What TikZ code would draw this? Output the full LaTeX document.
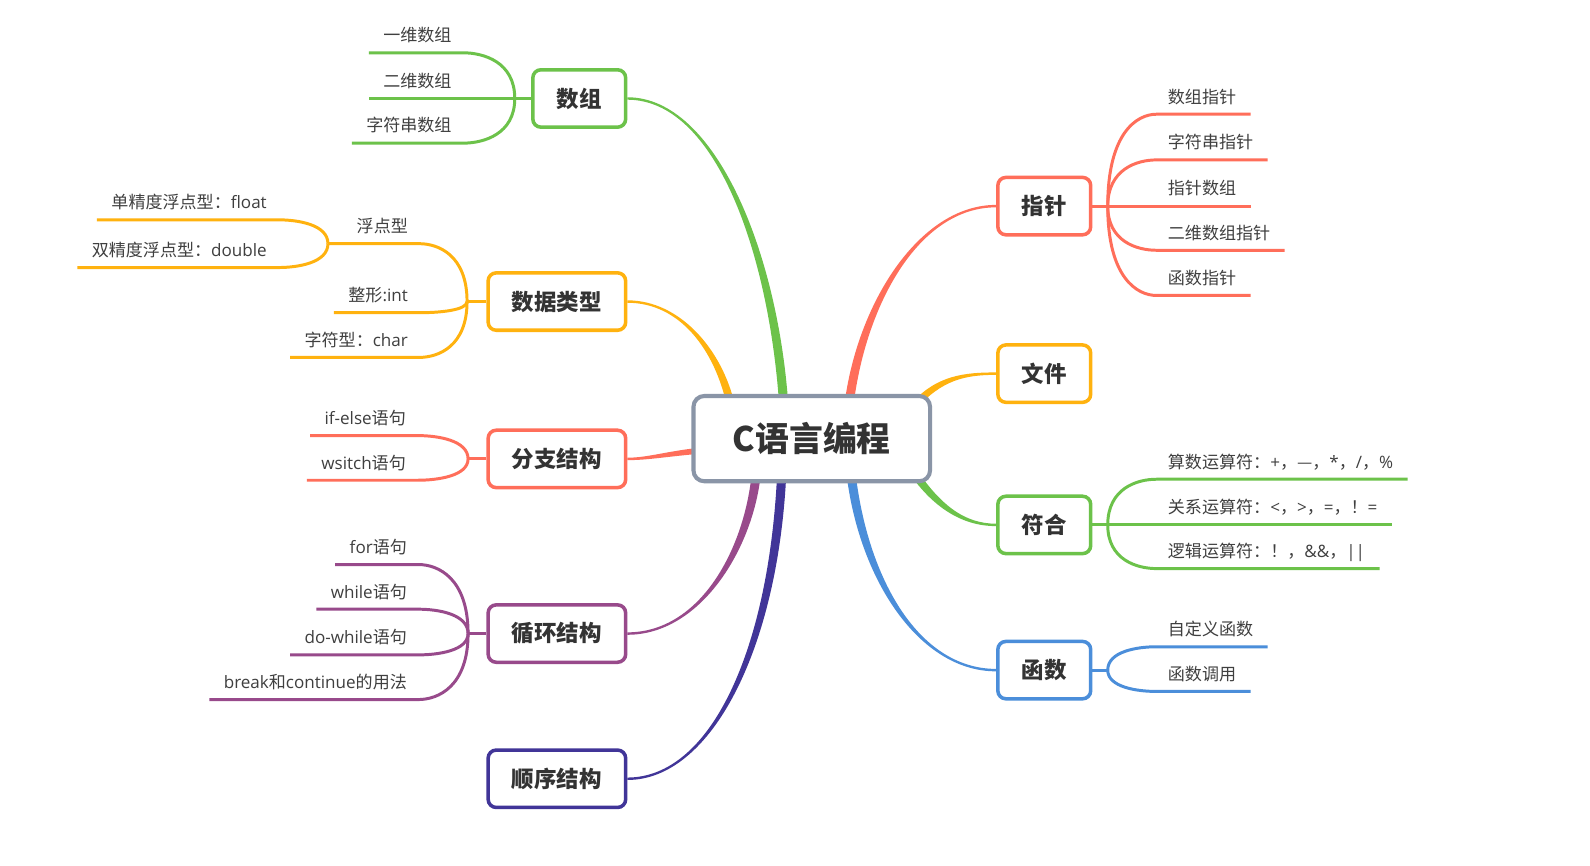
\documentclass[tikz,border=0pt]{standalone}
\usepackage{fontspec}
\setmainfont{Noto Sans CJK SC}
\newfontfamily\lat{Open Sans}
\usetikzlibrary{calc,backgrounds}
\definecolor{cgreen}{HTML}{6CC24A}
\definecolor{corange}{HTML}{FFB20F}
\definecolor{cred}{HTML}{FF6E5A}
\definecolor{cpurple}{HTML}{984A8B}
\definecolor{cindigo}{HTML}{413598}
\definecolor{cblue}{HTML}{4B8EDA}
\definecolor{cgray}{HTML}{8A95A7}
\definecolor{ctext}{HTML}{333333}
\definecolor{cleaf}{HTML}{3F3F3F}
% tapered main connector: colour, start, c1, c2, end, start half-width vector, end half-width vector
\newcommand\tapr[7]{%
  \fill[#1] ($#2+#6$) .. controls ($#3+#6$) and ($#4+#7$) .. ($#5+#7$) -- ($#5-#7$) .. controls ($#4-#7$) and ($#3-#6$) .. ($#2-#6$) -- cycle;}
% left leaf: colour, name, jx, jy, hx, line y, text
\newcommand\lleaf[7]{%
  \node[leaf, anchor=base east] (#2) at (#5,{#6-11}) {#7};
  \draw[leafline,#1] (#3,#4) .. controls (#3,{#4+0.8*(#6-#4)}) and ({#5+0.4*(#3-#5)},#6) .. (#5,#6) -- ($(#2.base west)+(-3,11)$);}
% right leaf
\newcommand\rleaf[7]{%
  \node[leaf, anchor=base west] (#2) at (#5,{#6-11}) {#7};
  \draw[leafline,#1] (#3,#4) .. controls (#3,{#4+0.8*(#6-#4)}) and ({#5+0.4*(#3-#5)},#6) .. (#5,#6) -- ($(#2.base east)+(3,11)$);}
\begin{document}
\begin{tikzpicture}[x=0.75pt,y=-0.75pt,
  box/.style={draw, line width=2.6pt, rounded corners=6pt, fill=white, minimum height=42.4pt, text=ctext, font=\fontsize{16.6}{20}\selectfont\bfseries, inner sep=0pt},
  box2/.style={box, minimum width=68.6pt},
  box4/.style={box, minimum width=101.6pt},
  leaf/.style={inner xsep=8.25pt, inner ysep=0pt, text=cleaf, font=\fontsize{12.6}{15}\selectfont},
  leafline/.style={line width=2.2pt},
]
\useasboundingbox (0,0) rectangle (1566,852);

% central node
\node[draw=cgray, line width=3pt, rounded corners=8pt, fill=white, minimum width=174.75pt, minimum height=63pt, font=\fontsize{25}{30}\selectfont\bfseries, text=ctext] (c) at (799.5,432) {C语言编程};

% branch nodes
\node[box2, draw=cgreen] (sz) at (570.5,97) {数组};
\node[box4, draw=corange] (sjlx) at (548.5,297) {数据类型};
\node[box4, draw=cred] (fz) at (548.5,452) {分支结构};
\node[box4, draw=cpurple] (xh) at (548.5,624) {循环结构};
\node[box4, draw=cindigo] (sx) at (548.5,767) {顺序结构};
\node[box2, draw=cred] (zz) at (1028.5,203) {指针};
\node[box2, draw=corange] (wj) at (1028.5,368) {文件};
\node[box2, draw=cgreen] (fh) at (1028.5,517) {符合};
\node[box2, draw=cblue] (hs) at (1028.5,660) {函数};

\begin{pgfonlayer}{background}
\fill[white] (0,0) rectangle (1566,852);
\tapr{cgreen}{(772,400)}{(762,250)}{(705,97)}{(sz.east)}{(4.5,0)}{(0,-1.2)}
\tapr{corange}{(720,400)}{(708,345)}{(670,297)}{(sjlx.east)}{(4,0)}{(0,-1.2)}
\tapr{cred}{(700,443)}{(660,446)}{(640,452)}{(fz.east)}{(0,-3)}{(0,-1.2)}
\tapr{cpurple}{(745,465)}{(738,540)}{(690,624)}{(xh.east)}{(-4.5,0)}{(0,-1.2)}
\tapr{cindigo}{(770,465)}{(762,640)}{(700,767)}{(sx.east)}{(-4.5,0)}{(0,-1.2)}
\tapr{cred}{(836,400)}{(848,300)}{(905,203)}{(zz.west)}{(4.5,0)}{(0,1.2)}
\tapr{corange}{(900,400)}{(925,372)}{(950,368)}{(wj.west)}{(2.5,2.5)}{(0,1.2)}
\tapr{cgreen}{(895,458)}{(922,500)}{(950,517)}{(fh.west)}{(-3.3,2.2)}{(0,1.2)}
\tapr{cblue}{(838,465)}{(850,570)}{(905,660)}{(hs.west)}{(-4.5,0)}{(0,1.2)}
\end{pgfonlayer}

% junction coordinates and stubs
\coordinate (jsz) at (507,97);
\coordinate (jsj) at (460,297);
\coordinate (jfd) at (323,240);
\coordinate (jfz) at (461,452);
\coordinate (jxh) at (461,624);
\coordinate (jzz) at (1091,203);
\coordinate (jfh) at (1091,517);
\coordinate (jhs) at (1091,660);
\draw[leafline,cgreen] (sz.west) -- (jsz);
\draw[leafline,corange] (sjlx.west) -- (jsj);
\draw[leafline,cred] (fz.west) -- (jfz);
\draw[leafline,cpurple] (xh.west) -- (jxh);
\draw[leafline,cred] (zz.east) -- (jzz);
\draw[leafline,cgreen] (fh.east) -- (jfh);
\draw[leafline,cblue] (hs.east) -- (jhs);

% 数组
\lleaf{cgreen}{a1}{507}{97}{456}{52}{一维数组}
\lleaf{cgreen}{a2}{507}{97}{456}{97}{二维数组}
\lleaf{cgreen}{a3}{507}{97}{456}{141}{字符串数组}

% 数据类型
\node[leaf, anchor=base east] (fd) at (413,229) {浮点型};
\draw[leafline,corange] (jsj) .. controls (460,251.4) and (431.8,240) .. (413,240) -- (jfd);
\lleaf{corange}{b2}{460}{297}{413}{308}{整形{\lat :int}}
\lleaf{corange}{b3}{460}{297}{413}{352}{字符型：{\lat char}}
\lleaf{corange}{b11}{323}{240}{274}{216.5}{单精度浮点型：{\lat float}}
\lleaf{corange}{b12}{323}{240}{274}{263.5}{双精度浮点型：{\lat double}}

% 分支结构
\lleaf{cred}{c1}{461}{452}{411}{429}{{\lat if-else}语句}
\lleaf{cred}{c2}{461}{452}{411}{473}{{\lat wsitch}语句}

% 循环结构
\lleaf{cpurple}{d1}{461}{624}{412}{556}{{\lat for}语句}
\lleaf{cpurple}{d2}{461}{624}{412}{600}{{\lat while}语句}
\lleaf{cpurple}{d3}{461}{624}{412}{645}{{\lat do-while}语句}
\lleaf{cpurple}{d4}{461}{624}{412}{689}{{\lat break}和{\lat continue}的用法}

% 指针
\rleaf{cred}{e1}{1091}{203}{1139}{112.5}{数组指针}
\rleaf{cred}{e2}{1091}{203}{1139}{157.5}{字符串指针}
\rleaf{cred}{e3}{1091}{203}{1139}{203}{指针数组}
\rleaf{cred}{e4}{1091}{203}{1139}{246.5}{二维数组指针}
\rleaf{cred}{e5}{1091}{203}{1139}{291}{函数指针}

% 符合
\rleaf{cgreen}{f1}{1091}{517}{1139}{472}{算数运算符：{\lat +}，—，{\lat *}，{\lat /}，{\lat \%}}
\rleaf{cgreen}{f2}{1091}{517}{1139}{517}{关系运算符：{\lat <}，{\lat >}，{\lat =}，！{\lat =}}
\rleaf{cgreen}{f3}{1091}{517}{1139}{560}{逻辑运算符：！，{\lat \&\&}，{\lat ||}}

% 函数
\rleaf{cblue}{g1}{1091}{660}{1139}{637}{自定义函数}
\rleaf{cblue}{g2}{1091}{660}{1139}{681}{函数调用}
\end{tikzpicture}
\end{document}
